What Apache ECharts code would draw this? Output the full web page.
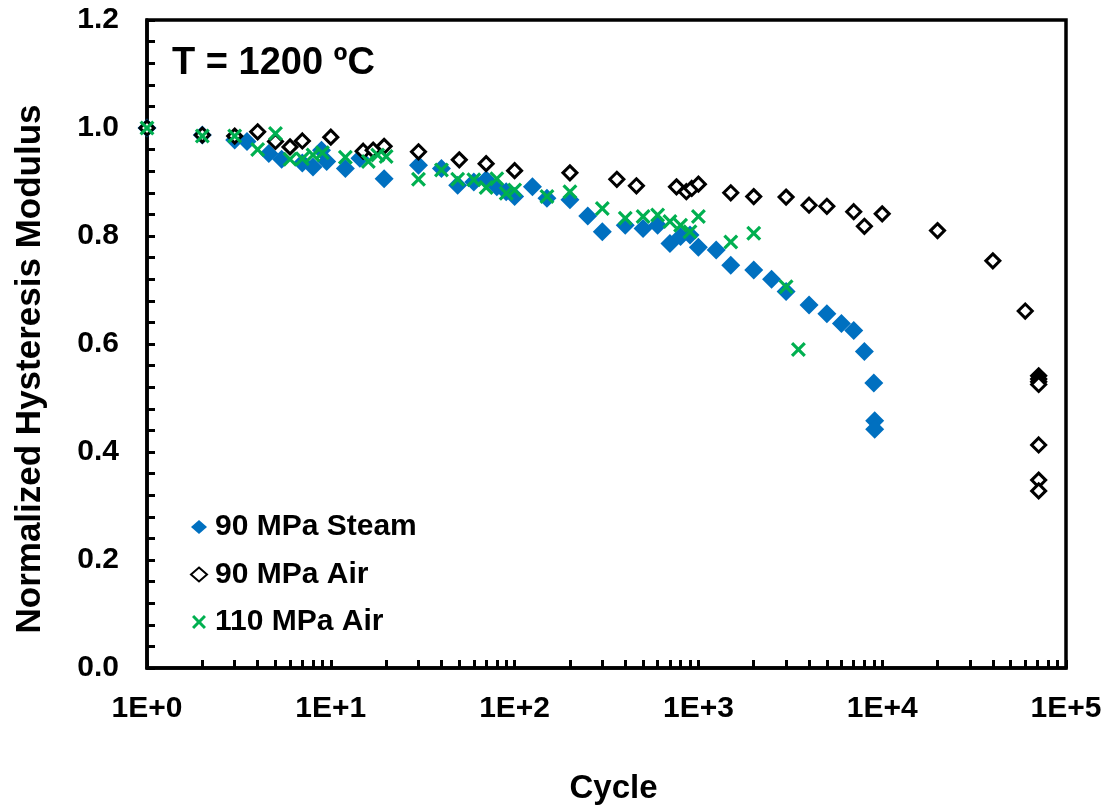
<!DOCTYPE html>
<html>
<head>
<meta charset="utf-8">
<script src="https://cdn.jsdelivr.net/npm/echarts@6/dist/echarts.min.js"></script>
<style>
html,body{margin:0;padding:0;background:#fff;}
#chart{width:1112px;height:805px;}
</style>
</head>
<body>
<div id="chart"></div>
<script>
// ---- data ----
var steamCycles = [1,2,3,3.5,4.6,5.4,7,8,8.9,9.5,12,14.4,19.5,30,40,49,60,70,80,90,100,125,150,200,250,300,400,500,600,700,800,900,1000,1250,1500,2000,2500,3000,4000,5000,6000,7000,8000,9000,9100,9100];
var steamModulus = [1.0,0.987,0.978,0.975,0.953,0.942,0.935,0.928,0.959,0.938,0.925,0.944,0.906,0.931,0.925,0.894,0.9,0.904,0.891,0.882,0.873,0.891,0.87,0.867,0.837,0.808,0.82,0.814,0.82,0.786,0.799,0.802,0.779,0.774,0.746,0.737,0.72,0.697,0.672,0.656,0.638,0.625,0.586,0.528,0.458,0.442];

var air90Cycles = [1,2,3,4,5,6,7,10,15,17,19.5,30,50,70,100,200,360,460,760,860,920,1000,1500,2000,3000,4000,5000,7000,8000,10000,20000,40000,60000,71000,71000,71000,71000,71000,71000,71000];
var air90Modulus = [1.0,0.987,0.985,0.993,0.975,0.965,0.976,0.983,0.957,0.959,0.966,0.956,0.941,0.934,0.921,0.917,0.905,0.893,0.891,0.882,0.888,0.896,0.88,0.873,0.872,0.857,0.855,0.845,0.818,0.841,0.81,0.754,0.661,0.541,0.535,0.53,0.525,0.413,0.348,0.328];

var air110Cycles = [1,2,3,4,5,6,7,8,9,12,16,18,20,30,40,49,60,70,80,90,100,150,200,300,400,500,600,700,800,900,1000,1500,2000,3000,3500];
var air110Modulus = [1.0,0.985,0.985,0.96,0.99,0.942,0.943,0.95,0.954,0.946,0.938,0.95,0.947,0.905,0.922,0.905,0.904,0.89,0.906,0.879,0.885,0.873,0.882,0.851,0.833,0.836,0.839,0.827,0.82,0.808,0.836,0.789,0.805,0.706,0.59];

var seriesNames = ['90 MPa Steam','90 MPa Air','110 MPa Air'];
var xMajorTicks = [1,10,100,1000,10000,100000];
var titleText = 'T = 1200 \u00BAC';
var xName = 'Cycle';
var yName = 'Normalized Hysteresis Modulus';

function zip(a,b){ return a.map(function(v,i){ return [v,b[i]]; }); }

// tick values for the log axis (1..9 in every decade)
var xTickValues = [];
xMajorTicks.forEach(function(d, i){
  if (i === xMajorTicks.length - 1) { xTickValues.push(d); return; }
  for (var k = 1; k < 10; k++) xTickValues.push(d * k);
});
var yTickValues = [];
for (var t = 0; t <= 30; t++) yTickValues.push(+(t * 0.04).toFixed(2));

var FONT = '"Liberation Sans", Arial, sans-serif';
var crossPath = 'path://M0,3 L3,0 L10,7 L17,0 L20,3 L13,10 L20,17 L17,20 L10,13 L3,20 L0,17 L7,10 Z';

var chart = echarts.init(document.getElementById('chart'), null, {renderer:'canvas'});
chart.setOption({
  animation: false,
  backgroundColor: '#ffffff',
  title: {
    text: titleText,
    left: 167, top: 40,
    textStyle: {fontFamily: FONT, fontWeight: 'bold', fontSize: 38, color: '#000'}
  },
  grid: {
    left: 147, right: 46, top: 20, bottom: 137,
    containLabel: false, outerBoundsMode: 'none',
    show: true, borderColor: '#000', borderWidth: 3.5, backgroundColor: 'transparent'
  },
  legend: {
    orient: 'vertical',
    left: 185, top: 507,
    itemWidth: 16, itemHeight: 14,
    itemGap: 17.5,
    data: seriesNames,
    textStyle: {fontFamily: FONT, fontWeight: 'bold', fontSize: 30, color: '#000', lineHeight: 30, padding: [0,0,0,3]}
  },
  xAxis: {
    type: 'log', logBase: 10, min: 1, max: 100000,
    name: xName, nameLocation: 'middle', nameGap: 104,
    nameTextStyle: {fontFamily: FONT, fontWeight: 'bold', fontSize: 33, color: '#000', padding: [0,0,0,14]},
    axisLine: {show: true, lineStyle: {color: '#000', width: 3.5}},
    axisTick: {show: true, inside: true, length: 8, lineStyle: {color: '#000', width: 3}, customValues: xTickValues},
    axisLabel: {
      margin: 26, fontFamily: FONT, fontWeight: 'bold', fontSize: 30, color: '#000',
      customValues: xMajorTicks,
      formatter: function(v){ return '1E+' + Math.round(Math.log10(v)); }
    },
    splitLine: {show: false}, minorTick: {show: false}
  },
  yAxis: {
    type: 'value', min: 0, max: 1.2, interval: 0.2,
    name: yName, nameLocation: 'middle', nameGap: 99, nameRotate: 90,
    nameTextStyle: {fontFamily: FONT, fontWeight: 'bold', fontSize: 35, color: '#000', padding: [0,50,0,0]},
    axisLine: {show: true, lineStyle: {color: '#000', width: 3.5}},
    axisTick: {show: true, inside: true, length: 8, lineStyle: {color: '#000', width: 3}, customValues: yTickValues},
    axisLabel: {
      margin: 28, fontFamily: FONT, fontWeight: 'bold', fontSize: 30, color: '#000',
      formatter: function(v){ return v.toFixed(1); }
    },
    splitLine: {show: false}
  },
  series: [
    {
      name: seriesNames[0], type: 'scatter', symbol: 'diamond', symbolSize: 19,
      itemStyle: {color: '#0070C0', opacity: 1},
      data: zip(steamCycles, steamModulus), z: 2
    },
    {
      name: seriesNames[1], type: 'scatter', symbol: 'diamond', symbolSize: 14,
      itemStyle: {color: '#ffffff', borderColor: '#000000', borderWidth: 3, opacity: 1},
      data: zip(air90Cycles, air90Modulus), z: 3
    },
    {
      name: seriesNames[2], type: 'scatter', symbol: crossPath, symbolSize: 15,
      itemStyle: {color: '#00B050', opacity: 1},
      data: zip(air110Cycles, air110Modulus), z: 4
    }
  ]
});
</script>
</body>
</html>
